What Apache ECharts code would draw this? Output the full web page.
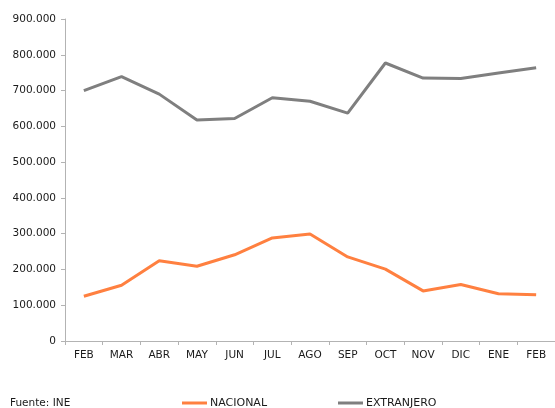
<!DOCTYPE html>
<html>
<head>
<meta charset="utf-8">
<script src="https://cdn.jsdelivr.net/npm/echarts@6/dist/echarts.min.js"></script>
<style>html,body{margin:0;padding:0;background:#fff}#c{width:555px;height:408px}</style>
</head>
<body>
<div id="c"></div>
<script>
var categories = ['FEB','MAR','ABR','MAY','JUN','JUL','AGO','SEP','OCT','NOV','DIC','ENE','FEB'];
var nacional = [125000,156000,224000,209000,241000,288000,299000,235000,201000,140000,158000,132000,129000];
var extranjero = [700000,739000,690000,618000,622000,680000,670000,637000,777000,735000,734000,749000,764000];
var yTicks = [0,100000,200000,300000,400000,500000,600000,700000,800000,900000];

function fmt(v){
  if (v === 0) return '0';
  var s = String(Math.round(v));
  return s.replace(/\B(?=(\d{3})+(?!\d))/g, '.');
}

var chart = echarts.init(document.getElementById('c'), null, {renderer:'canvas'});
var font = 'DejaVu Sans';
chart.setOption({
  animation: false,
  textStyle: {fontFamily: font},
  grid: {left: 65, right: -9.6, top: 19, bottom: 67, containLabel: false},
  xAxis: {
    type: 'category',
    data: categories,
    boundaryGap: true,
    axisLine: {lineStyle: {color: '#b3b3b3', width: 1}},
    axisTick: {show: true, length: 4, lineStyle: {color: '#b3b3b3'}},
    axisLabel: {color: '#1a1a1a', fontSize: 10.5, fontFamily: font, margin: 9}
  },
  yAxis: {
    type: 'value',
    min: yTicks[0],
    max: yTicks[yTicks.length-1],
    interval: yTicks[1]-yTicks[0],
    axisLine: {show: true, lineStyle: {color: '#b3b3b3', width: 1}},
    axisTick: {show: true, length: 4, lineStyle: {color: '#b3b3b3'}},
    splitLine: {show: false},
    axisLabel: {color: '#1a1a1a', fontSize: 10.5, fontFamily: font, margin: 9, formatter: fmt}
  },
  legend: [
    {data: ['NACIONAL'], left: 182, top: 397.5, padding: 0, icon: 'rect', itemWidth: 25, itemHeight: 3, itemGap: 3,
     textStyle: {fontSize: 11, color: '#1a1a1a', fontFamily: font, padding: [0,0,0,-2]}},
    {data: ['EXTRANJERO'], left: 338, top: 397.5, padding: 0, icon: 'rect', itemWidth: 25, itemHeight: 3, itemGap: 3,
     textStyle: {fontSize: 11, color: '#1a1a1a', fontFamily: font, padding: [0,0,0,-2]}}
  ],
  graphic: [
    {type: 'text', left: 10, top: 398, style: {text: 'Fuente: INE', fill: '#1a1a1a', font: '10.5px "DejaVu Sans"'}}
  ],
  series: [
    {name: 'NACIONAL', type: 'line', data: nacional, symbol: 'none', smooth: false,
     lineStyle: {color: '#ff8040', width: 3}, itemStyle: {color: '#ff8040'}},
    {name: 'EXTRANJERO', type: 'line', data: extranjero, symbol: 'none', smooth: false,
     lineStyle: {color: '#7f7f7f', width: 3}, itemStyle: {color: '#7f7f7f'}}
  ]
});
</script>
</body>
</html>
